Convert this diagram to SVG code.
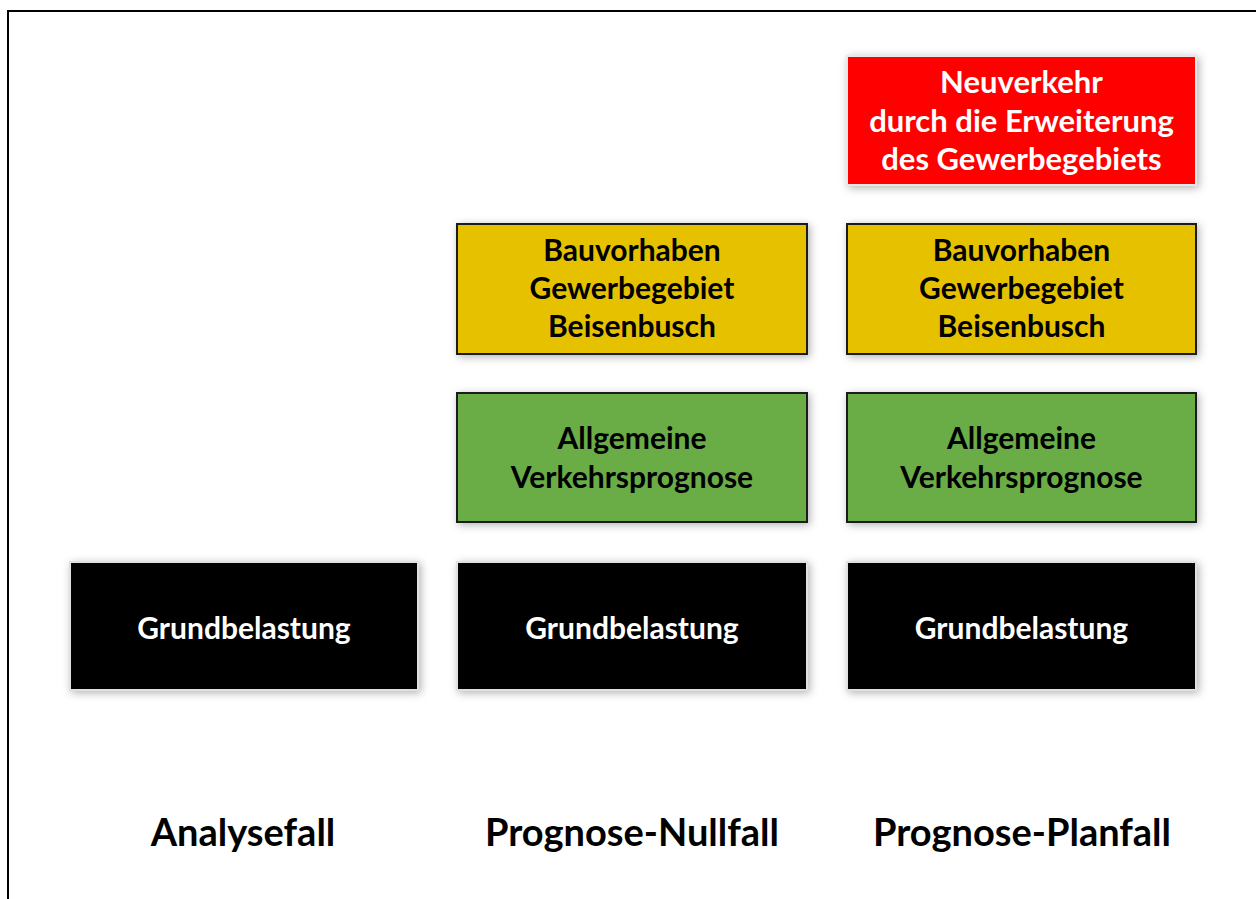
<svg xmlns="http://www.w3.org/2000/svg" width="1256" height="899" viewBox="0 0 1256 899">
<style>
.t{font-family:Lato,"Open Sans","Liberation Sans",sans-serif;font-weight:bold;text-anchor:middle}
.w{fill:#ffffff;font-size:30px}
.r{fill:#ffffff;font-size:31px}
.k{fill:#000000;font-size:30px}
.lab{fill:#000000;font-size:38px}
.red{fill:#ff0000;stroke:#e8e8e8;stroke-width:2}
.yel{fill:#e5c100;stroke:#1a1a1a;stroke-width:2}
.grn{fill:#6bad46;stroke:#1a1a1a;stroke-width:2}
.blk{fill:#000000;stroke:#e0e0e0;stroke-width:2}
</style>
<defs>
<filter id="sh" x="-10%" y="-20%" width="120%" height="140%">
<feDropShadow dx="2" dy="2" stdDeviation="4" flood-color="#000" flood-opacity="0.3"/>
</filter>
</defs>
<rect x="0" y="0" width="1256" height="899" fill="#ffffff"/>
<rect x="8" y="11" width="1260" height="900" fill="none" stroke="#000" stroke-width="2"/>
<g id="connectors"/>
<g id="neuverkehr">
<rect class="red" x="847" y="56" width="349" height="129" filter="url(#sh)"/>
<text class="t r" x="1021.5" y="93">Neuverkehr</text>
<text class="t r" x="1021.5" y="132">durch die Erweiterung</text>
<text class="t r" x="1021.5" y="170">des Gewerbegebiets</text>
</g>
<g id="bau-null">
<rect class="yel" x="457" y="224" width="350" height="130" filter="url(#sh)"/>
<text class="t k" x="632" y="261">Bauvorhaben</text>
<text class="t k" x="632" y="299">Gewerbegebiet</text>
<text class="t k" x="632" y="337">Beisenbusch</text>
</g>
<g id="bau-plan">
<rect class="yel" x="847" y="224" width="349" height="130" filter="url(#sh)"/>
<text class="t k" x="1021.5" y="261">Bauvorhaben</text>
<text class="t k" x="1021.5" y="299">Gewerbegebiet</text>
<text class="t k" x="1021.5" y="337">Beisenbusch</text>
</g>
<g id="allg-null">
<rect class="grn" x="457" y="393" width="350" height="129" filter="url(#sh)"/>
<text class="t k" x="632" y="449">Allgemeine</text>
<text class="t k" x="632" y="488">Verkehrsprognose</text>
</g>
<g id="allg-plan">
<rect class="grn" x="847" y="393" width="349" height="129" filter="url(#sh)"/>
<text class="t k" x="1021.5" y="449">Allgemeine</text>
<text class="t k" x="1021.5" y="488">Verkehrsprognose</text>
</g>
<g id="grund-analyse">
<rect class="blk" x="70" y="562" width="348" height="128" filter="url(#sh)"/>
<text class="t w" x="244" y="639">Grundbelastung</text>
</g>
<g id="grund-null">
<rect class="blk" x="457" y="562" width="350" height="128" filter="url(#sh)"/>
<text class="t w" x="632" y="639">Grundbelastung</text>
</g>
<g id="grund-plan">
<rect class="blk" x="847" y="562" width="349" height="128" filter="url(#sh)"/>
<text class="t w" x="1021.5" y="639">Grundbelastung</text>
</g>
<g id="labels">
<text class="t lab" x="243" y="846">Analysefall</text>
<text class="t lab" x="632" y="846">Prognose-Nullfall</text>
<text class="t lab" x="1022" y="846">Prognose-Planfall</text>
</g>
</svg>
